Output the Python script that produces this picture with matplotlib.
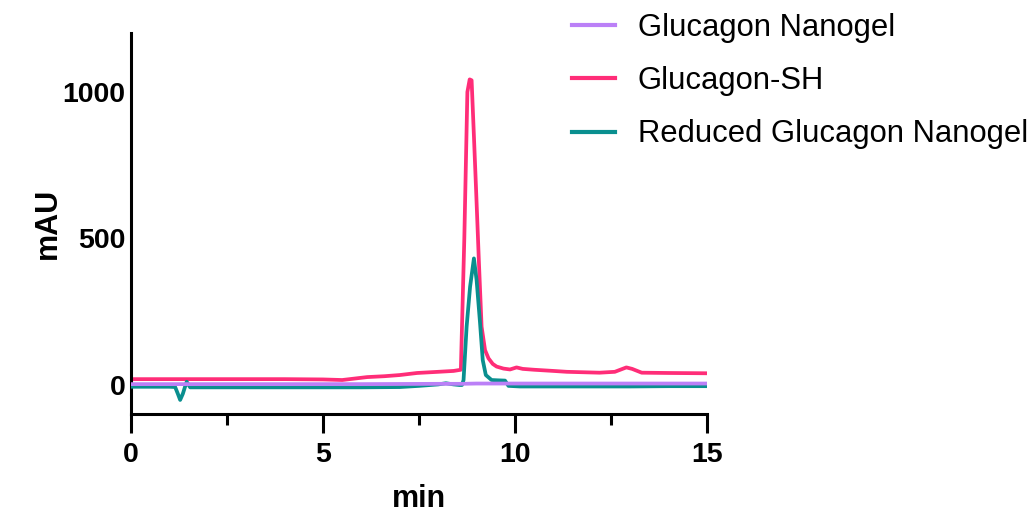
import numpy as np
import matplotlib
matplotlib.use('Agg')
import matplotlib.pyplot as plt
from matplotlib.ticker import MultipleLocator

plt.rcParams['font.family'] = ['Liberation Sans', 'DejaVu Sans']

# values (min, mAU)
nanogel_t = [0, 2, 4, 6, 8, 8.6, 9, 10, 12, 14, 15]
nanogel_y = [3, 3, 3, 3, 4, 4, 5, 5, 5, 5, 5]

sh_t = [0, 1, 2, 3, 4, 5, 5.5, 6.15, 6.6, 7.0, 7.45, 8.0, 8.4, 8.59,
        8.68, 8.76, 8.82, 8.87, 8.93, 8.99, 9.06, 9.13, 9.22, 9.31, 9.42,
        9.52, 9.7, 9.87, 10.04, 10.2, 10.5, 11.0, 11.35, 12.2, 12.6, 12.9,
        13.05, 13.3, 14.0, 15]
sh_y = [20, 20, 20, 20, 20, 19, 17, 27, 30, 34, 41, 45, 48, 52,
        500, 1000, 1043, 1040, 850, 655, 420, 199, 119, 91, 72,
        63, 56, 53, 60, 55, 52, 48, 45, 42, 45, 60,
        55, 42, 41, 40]

red_t = [0, 0.5, 1.0, 1.15, 1.22, 1.28, 1.35, 1.41, 1.45, 1.54, 2, 3, 4,
         5, 6, 7, 7.5, 8.0, 8.2, 8.4, 8.55, 8.62, 8.66, 8.74, 8.83, 8.93,
         9.0, 9.09, 9.16, 9.24, 9.39, 9.55, 9.74, 9.83, 10.13, 11, 12, 13,
         14, 15]
red_y = [-6, -6, -6, -7, -30, -51, -30, -5, 11, -8, -8, -8, -8,
         -8, -8, -7, -3, 2, 6, 2, 0, 0, 17, 199, 335, 432,
         358, 211, 85, 34, 17, 16, 15, -3, -5, -5, -5, -5,
         -4, -4]

fig = plt.figure(figsize=(10.31, 5.14), dpi=100)
ax = fig.add_axes([131 / 1031, 1 - 414.3 / 514, (707 - 131) / 1031, (414.3 - 33.4) / 514])

lw = 2.7
ax.plot(red_t, red_y, color='#0a8f8f', lw=lw, label='Reduced Glucagon Nanogel', zorder=3)
ax.plot(sh_t, sh_y, color='#ff2d78', lw=lw, label='Glucagon-SH', zorder=2)
ax.plot(nanogel_t, nanogel_y, color='#bb80f7', lw=lw, label='Glucagon Nanogel', zorder=4)

ax.set_xlim(0, 15)
ax.set_ylim(-100, 1200)
ax.xaxis.set_major_locator(MultipleLocator(5))
ax.xaxis.set_minor_locator(MultipleLocator(2.5))
ax.set_yticks([0, 500, 1000])

for s in ['top', 'right']:
    ax.spines[s].set_visible(False)
for s in ['left', 'bottom']:
    ax.spines[s].set_linewidth(2.2)

ax.tick_params(axis='x', which='major', length=14, width=2.2, pad=6,
               labelsize=20.5)
ax.tick_params(axis='x', which='minor', length=8, width=2.2)
ax.tick_params(axis='y', length=0, pad=4, labelsize=20.5)
for lab in ax.get_xticklabels() + ax.get_yticklabels():
    lab.set_fontweight('bold')

ax.set_xlabel('min', fontsize=22, fontweight='bold', labelpad=11.5)
ax.set_ylabel('mAU', fontsize=22, fontweight='bold', labelpad=0)

handles, labels = ax.get_legend_handles_labels()
order = [2, 1, 0]
leg = fig.legend([handles[i] for i in order], [labels[i] for i in order],
                 loc='upper left', bbox_to_anchor=(572 / 1031, 1 - 13 / 514),
                 frameon=False, fontsize=22.3, handlelength=1.39,
                 handletextpad=0.74, labelspacing=0.75, borderpad=0,
                 borderaxespad=0)
for line in leg.get_lines():
    line.set_linewidth(3)

fig.savefig('out.png', dpi=100)
